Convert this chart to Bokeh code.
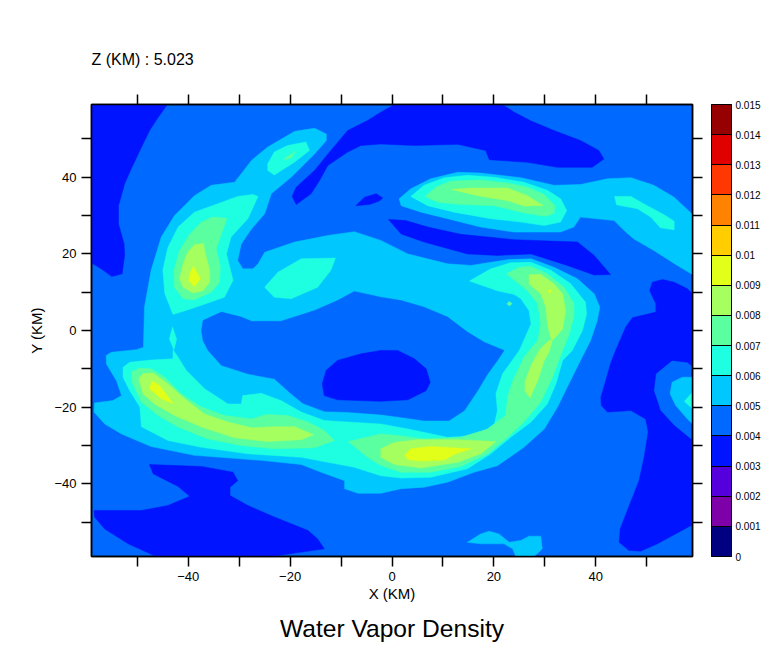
from bokeh.plotting import figure
from bokeh.embed import file_html
from bokeh.resources import INLINE
from bokeh.models import (ColorBar, LinearColorMapper, FixedTicker, LinearAxis, Title, Range1d)

# ---- contour levels and colours (one colour per 0.001 band) ----
levels = [0, 0.001, 0.002, 0.003, 0.004, 0.005, 0.006, 0.007, 0.008, 0.009,
          0.01, 0.011, 0.012, 0.013, 0.014, 0.015]
palette = ["#000080", "#7d00a8", "#5500dc", "#0014ff", "#0069ff", "#00c8ff", "#1effe1",
           "#5aff9f", "#a5ff5f", "#e1ff19", "#ffcd00", "#ff8200", "#ff3700", "#e10000", "#960000"]
BAND_3, BAND_4, BAND_5, BAND_6, BAND_7, BAND_8, BAND_9 = palette[3:10]

level_labels = ["0", "0.001", "0.002", "0.003", "0.004", "0.005", "0.006", "0.007", "0.008",
                "0.009", "0.01", "0.011", "0.012", "0.013", "0.014", "0.015"]
x_ticks = [-50, -40, -30, -20, -10, 0, 10, 20, 30, 40, 50]
labelled = {-40: "\u221240", -20: "\u221220", 0: "0", 20: "20", 40: "40"}

# ---- contour outlines (x km, y km) ----
low_topleft = [(-59, 59), (-44.1, 59), (-45.9, 55.7), (-47.6, 52.2), (-49.5, 47), (-51.2, 42.2), (-52.5, 38.3),
               (-53.7, 32.6), (-53.7, 27.8), (-52.6, 22.6), (-52.5, 19.6), (-53, 14.8), (-55, 14.1), (-57.1, 16.1), (-59, 17.6)]
low_top = [(0.5, 59), (21.7, 59), (24, 57), (27.3, 54.7), (31.8, 52.2), (37, 49.6), (40.6, 47), (41.6, 44.8),
           (39.3, 42.6), (32.5, 42.6), (26.6, 43.9), (19.1, 44.6), (18.4, 47), (12.9, 48.6), (4.4, 48.3), (-2.2, 48.7),
           (-6.1, 48.3), (-8.7, 46.6), (-12.6, 43.1), (-14.2, 39.2), (-15.9, 35.7), (-18.8, 32.9), (-19.6, 35),
           (-18.8, 37.4), (-15.2, 41.8), (-12, 47), (-8.7, 52.2), (-4.8, 54.8), (-2.2, 57)]
low_speck = [(-7.1, 32.6), (-5.4, 34.8), (-3.1, 35.7), (-1.8, 34.6), (-2.5, 33.8), (-4.4, 32.9)]
low_band = [(-0.7, 29), (2.7, 28.7), (7, 27), (13.5, 25.1), (24, 23.7), (36.4, 23.1), (39.7, 19.6), (42.9, 14.6),
            (39.7, 14.5), (34.4, 17), (27.3, 20), (20.7, 19.6), (14.8, 20), (6.3, 23.1), (1.8, 25.2)]
low_right = [(59, 9.6), (58, 10.9), (55.4, 12.6), (53.1, 13.3), (51.1, 12.6), (50.6, 10.4), (51.8, 7), (51.8, 4.8),
             (47.2, 3.3), (45.9, 0.9), (43.9, -5.2), (42.9, -8.7), (41.8, -13.9), (41, -17.4), (41.1, -19.6), (42.3, -21.3),
             (46.9, -20.9), (49.8, -23.1), (50.3, -26.5), (49.5, -33.1), (48.5, -39.2), (46.2, -47), (44.8, -51.8),
             (44.6, -55.3), (46.5, -57.4), (48.8, -57.6), (52.1, -55.7), (59, -50.7), (59, -28.7), (55.4, -24.8),
             (52.7, -20.9), (51.4, -15.7), (51.8, -11.3), (55, -7.8), (58, -8.3), (59, -9.4)]
low_bottom = [(-47.6, -35), (-37.4, -35.5), (-31.2, -37), (-30.3, -39.2), (-31.8, -40.9), (-31.8, -43.1), (-28.3, -45.7),
              (-23.1, -48.7), (-16.5, -52.2), (-14.6, -54.4), (-13.3, -57), (-23.7, -59), (-46.3, -59), (-51.8, -55.7),
              (-56.4, -51.8), (-58.4, -48.7), (-58.5, -47), (-49.2, -47), (-44, -45.7), (-39.7, -43.3), (-42, -40.7), (-46.9, -37.4)]
low_centre = [(-2.2, -5.2), (-6.1, -6.1), (-10.7, -7.8), (-12.9, -10.4), (-13.7, -13.9), (-13.3, -17), (-10.7, -18.1),
              (-2.2, -18.5), (3.1, -18.1), (6.7, -15.7), (7.5, -13.5), (6.7, -10), (4.4, -7.4), (1.1, -5.2)]

ring_outer = [(-58.5, -21.3), (-56.4, -24.4), (-53.1, -27), (-47.3, -30.3), (-38.8, -32.6), (-25.7, -33.9), (-17.8, -35),
              (-13.9, -37), (-9.3, -39.2), (-9.3, -41.3), (-6.7, -42.5), (-2.2, -42.5), (1.8, -41.3), (6.3, -40.9), (10.9, -39.6),
              (16.1, -37), (20.7, -35.3), (25.9, -30.5), (29.9, -25.7), (32.5, -20), (34.4, -14.8), (37, -7.8), (39, -2.6),
              (40.3, 2.6), (40.8, 6.1), (39.7, 9.6), (36.4, 13.5), (31.8, 16.5), (27.3, 18.7), (22.7, 18.5), (19.4, 17.8),
              (15.5, 17), (10.9, 17.4), (3.1, 20), (-2.2, 23.5), (-7.4, 25.8), (-12.6, 24.8), (-19.1, 23.1), (-25, 20.4),
              (-26.3, 17.4), (-27.3, 16.1), (-29.3, 16.1), (-30.3, 18.3), (-29.6, 22.6), (-27.6, 26.5), (-25, 30.5), (-23.7, 35.7),
              (-19.8, 40), (-15.2, 46.1), (-12.9, 49.6), (-12.9, 51.3), (-15.2, 52.8), (-19.1, 52), (-24.4, 47.9), (-27.6, 44.4),
              (-29.1, 41.8), (-30.9, 38.7), (-35.5, 37.9), (-38.8, 35.2), (-42.7, 30), (-45.3, 24.4), (-47.3, 15.7), (-48.6, 6.1),
              (-48.8, -4.4), (-50.2, -5), (-55.1, -5.7), (-56.1, -6.5), (-56.1, -8.7), (-54.1, -13.1), (-53.1, -17), (-54.8, -18.3),
              (-58.4, -18.9)]
ring_hole = [(-37.1, 2.6), (-33.5, 4.8), (-29.6, 3.5), (-27.6, 2.4), (-21.8, 2.4), (-15.2, 5.2), (-10.7, 7.8), (-7.4, 10.2),
             (-2.2, 8.7), (1.8, 7.8), (6.3, 6.1), (10.9, 3.5), (14.8, -0.4), (18.1, -3.1), (22, -5.2), (20.7, -7.8), (18.8, -11.3),
             (16.8, -15.7), (14.2, -20.9), (11.2, -23.5), (6.3, -23.5), (1.1, -22.5), (-2.2, -21.9), (-8.7, -21.3), (-13.3, -21.1),
             (-17.5, -19), (-19.8, -16.5), (-23.1, -12.6), (-28.3, -11.3), (-33.5, -9.1), (-36.1, -5.2), (-37.1, -2.6), (-37.4, 0)]
upper_band = [(1.4, 34.4), (3.7, 37), (7.6, 39.6), (12.9, 41.3), (17.4, 41.1), (25.3, 39.9), (31.8, 37.9), (37, 38.1), (42.3, 39.6),
              (46.9, 39.9), (51.4, 37.9), (55.4, 34.8), (59, 30.3), (59, 14.6), (56, 17), (51.4, 20.9), (47.5, 23.9), (45.9, 25.7),
              (43.6, 28.7), (37, 29.6), (35.7, 27), (33.1, 25.7), (24, 25.7), (17.4, 27), (10.9, 29.2), (5.7, 30.9), (1.8, 32.6)]
bottom_blob = [(14.8, -55.3), (17.4, -53.1), (19.1, -52.4), (21, -53.1), (23, -55.3), (25.3, -54.8), (26.9, -53.7), (29.2, -53.7),
               (29.5, -57), (27.9, -59), (24.3, -59), (23.7, -57), (22, -55.7), (17.4, -55.7)]
right_blob = [(59, -12.2), (57, -12.2), (55, -13.5), (54.6, -16.5), (55.7, -19.6), (58, -23.1), (59, -24.4)]

cyan_left = [(-26.3, 35), (-27.3, 35.5), (-30.3, 35), (-34.2, 33.1), (-38.8, 30.9), (-42, 27), (-44, 21.7), (-45, 15.7), (-44.6, 9.6),
             (-43, 4.2), (-39.4, 5.7), (-32.9, 8.7), (-31.2, 13.1), (-32.5, 20), (-31.6, 24.4), (-28.3, 29.2)]
cyan_top = [(-24.4, 43.5), (-23.1, 46.6), (-20.5, 48.3), (-16.9, 49.2), (-16.2, 47), (-19.1, 44), (-23.1, 40.6), (-24.4, 41.8)]
cyan_mid = [(-25, 11.3), (-22.4, 15.2), (-17.8, 18.7), (-11.1, 18.9), (-12, 15.7), (-14.6, 11.3), (-19.8, 8.3), (-23.1, 8.7)]
cyan_lens = [(-43.1, 0.9), (-42.3, -2.2), (-42.8, -5), (-43.7, -2.2)]
cyan_band = [(3.7, 35), (6.3, 37.9), (10.3, 39.9), (14.8, 40.5), (20.1, 40), (25.9, 38.7), (30.5, 36.6), (33.1, 34.4), (34.3, 31.3),
             (33.1, 28.3), (29.9, 27.4), (25.3, 28.3), (19.4, 29.2), (12.2, 30.9), (7, 32.6)]
cyan_streak = [(43.7, 35), (46.9, 35), (50.1, 32.6), (53.7, 30), (55.4, 28.5), (55.4, 26.3), (52.7, 26.8), (50.8, 29.6), (48.2, 31.8), (44.1, 32.8)]
cyan_arc = [(15.2, 12.9), (19.4, 16.1), (23.3, 17.7), (27.3, 17.8), (31.2, 15.7), (35.1, 12.2), (38, 7.4), (38.2, 4.3), (37.4, 0), (35.4, -5.2),
            (33.5, -7.8), (32.2, -13.9), (30.5, -19.2), (27.3, -23.9), (23.3, -27.9), (19.4, -32.2), (14.8, -36.1), (7.6, -38.3), (1.8, -38.5),
            (-2.2, -37.9), (-7.4, -35.7), (-12.6, -34.4), (-17.8, -33.1), (-28.3, -32.2), (-37.4, -30.5), (-44, -28.7), (-49.2, -25.1), (-49.5, -20),
            (-51.5, -15.7), (-52.8, -12.2), (-52.8, -9.6), (-51.5, -8.3), (-47.3, -7.7), (-43, -7.4), (-43, -5), (-42, -7), (-40.4, -10.4),
            (-36.8, -15.2), (-32.2, -19.2), (-29.6, -19.2), (-29.3, -17), (-25.7, -16.4), (-21.8, -18.3), (-17.8, -21.3), (-13.3, -23.5), (-8.7, -23.9),
            (-2.2, -24.4), (3.1, -25.7), (10.9, -27.9), (16.8, -27.4), (20.1, -24.4), (20.7, -20.9), (20.4, -16.5), (21.7, -11.3), (25, -5.2),
            (27.3, 1.7), (26.9, 5.2), (25.3, 8.3), (24, 9.4), (20.7, 10.4)]
cyan_edge = [(59, -16.1), (57.4, -18.5), (59, -20.4)]

green_left = [(-32.4, 29.3), (-35.2, 29.6), (-37.4, 28.3), (-39.7, 25.2), (-41.7, 20.9), (-42.8, 15.7), (-42.7, 11.3), (-41, 8.3), (-38.8, 8),
              (-35.5, 10), (-33.9, 12.6), (-33.7, 16.5), (-34.5, 21.3), (-33.5, 25.2)]
green_speck_top = [(-21.4, 44.6), (-19, 46.8), (-19.8, 45)]
green_band = [(6.5, 35), (8.6, 37.4), (11.6, 39), (17.4, 39.3), (22.7, 38.5), (26.6, 37.4), (29.9, 35.5), (32, 32.6), (31.8, 30.5), (29.9, 29.8),
              (25.3, 30.9), (20.1, 32.6), (13.5, 32.9), (9, 33.5)]
green_arc = [(22.5, 14.8), (25, 16.5), (27.3, 16.7), (30.5, 14.8), (33.8, 11.3), (35.7, 7), (35.7, 3.5), (34.8, -0.9), (33.5, -5.2), (31.5, -12.2),
             (29.2, -18.7), (25.9, -23.9), (22.7, -27.9), (18.8, -32.2), (13.5, -35.5), (7.6, -37), (1.8, -37), (-2.2, -35.2), (-4.8, -33.1), (-8.6, -29),
             (-2.2, -27), (1.1, -27.4), (6.3, -28.3), (13.5, -27.9), (18.8, -25.7), (22.3, -22.2), (22.7, -17.4), (23.7, -13.1), (25.9, -7), (28.6, -2.6),
             (29.2, 1.7), (28.6, 7), (26.6, 10.4), (23.7, 13.5)]
green_long = [(-51.2, -10.9), (-49.5, -9.8), (-47.3, -10), (-44.6, -12.2), (-41.4, -16.5), (-37.4, -20), (-32.9, -22.2), (-27.6, -23.1), (-24.7, -21.9),
              (-20.5, -22.2), (-16.5, -23.9), (-13.3, -26.1), (-11.3, -28.7), (-15.2, -30.6), (-23.1, -30.9), (-29.6, -30), (-36.1, -28.3), (-42, -25.2),
              (-45.9, -22.2), (-49.2, -18.7), (-50.9, -13.9)]
green_speck_arc = [(23, 7.6), (23.6, 7), (23, 6.4), (22.6, 7)]

lime_left = [(-38.8, 22.4), (-37, 22.8), (-36.8, 20.9), (-35.8, 15.7), (-35.8, 12.6), (-37.1, 10.4), (-39.1, 9.8), (-41, 11.3), (-41.7, 13.5), (-41, 17.4), (-40.1, 20.5)]
lime_band = [(11.7, 36.8), (15.5, 37.2), (22.7, 37.2), (26.6, 35.2), (29.7, 32.6), (25.9, 32.5), (22.7, 33.9), (16.8, 35.2)]
lime_arc_top = [(26.9, 14.6), (29.2, 14.6), (31.8, 12.2), (33.5, 9.6), (34.1, 5.2), (33.5, 0.4), (31.8, -2.2), (31.3, -2.6), (30.5, 1.7), (30.2, 6.1), (29.2, 9.6), (26.9, 12.2)]
lime_arc_low = [(31.5, -2.6), (30.8, -5.7), (29.9, -7.8), (28.6, -13.1), (27.1, -17.6), (26.1, -15.7), (26.1, -13.5), (27.3, -9.1), (29.1, -4.8), (30.8, -2.6)]
lime_bottom = [(-2.2, -30.9), (0.5, -29.2), (5, -28.5), (12.9, -28.5), (20.4, -29), (17.4, -32.2), (12.9, -34.4), (5.7, -35.9), (0.5, -35), (-2.2, -33.1)]
lime_long = [(-49.7, -12.6), (-48.9, -11.3), (-46.9, -11.1), (-44, -13.9), (-40.7, -17.8), (-36.8, -21.8), (-32.2, -23.9), (-27.6, -25.4), (-23.1, -25.1), (-19.1, -25.1),
             (-15.4, -27.2), (-17.8, -28.5), (-24.4, -29), (-30.9, -28), (-37.4, -25.2), (-42.7, -22.2), (-46.6, -19.2), (-48.9, -16.5)]

yellow_left = [(-39, 16.8), (-37.6, 13.5), (-38.8, 11.5), (-39.9, 13.1), (-39.7, 14.8)]
yellow_long = [(-47.1, -13.2), (-45.6, -14.4), (-43, -19), (-45.3, -17.8), (-47.6, -15.2)]
yellow_bottom = [(2.5, -32.6), (3.7, -30.9), (7.6, -30.3), (15.5, -30.9), (12.5, -32.2), (10.3, -33.8), (5.7, -34.1), (3.1, -33.7)]
yellow_speck = [(30.8, 10.6), (31.2, 10.6), (31.2, 10), (30.8, 10)]

# painted from the lowest band upward
paint_order = [
    (BAND_3, [low_topleft, low_top, low_speck, low_band, low_right, low_bottom]),
    (BAND_5, [ring_outer, upper_band, bottom_blob, right_blob]),
    (BAND_4, [ring_hole]),
    (BAND_3, [low_centre]),
    (BAND_6, [cyan_left, cyan_top, cyan_mid, cyan_lens, cyan_band, cyan_streak, cyan_arc, cyan_edge]),
    (BAND_7, [green_left, green_speck_top, green_band, green_arc, green_long, green_speck_arc]),
    (BAND_8, [lime_left, lime_band, lime_arc_top, lime_arc_low, lime_bottom, lime_long]),
    (BAND_9, [yellow_left, yellow_long, yellow_bottom, yellow_speck]),
]

p = figure(frame_width=601, frame_height=452, x_range=Range1d(-59, 59), y_range=Range1d(-59, 59),
           toolbar_location=None, output_backend="svg", min_border_left=91, min_border_top=104,
           min_border_bottom=100, min_border_right=4, x_axis_location=None, y_axis_location=None,
           background_fill_color=BAND_4, border_fill_color="white")
p.grid.visible = False
p.outline_line_color = "black"
p.outline_line_width = 1.5

for colour, outlines in paint_order:
    p.patches([[v[0] for v in o] for o in outlines], [[v[1] for v in o] for o in outlines],
              fill_color=colour, line_color=colour, line_width=0.5)

FONT = "Liberation Sans"


def make_axis(show_labels, title="", standoff=0):
    ax = LinearAxis(ticker=FixedTicker(ticks=x_ticks), axis_line_color="black", axis_line_width=1.5,
                    major_tick_line_color="black", major_tick_line_width=1.5,
                    major_tick_in=0, major_tick_out=10, minor_tick_line_color=None,
                    major_label_text_font=FONT, major_label_text_font_size="13px", major_label_text_color="black",
                    major_label_standoff=5)
    overrides = {t: (labelled.get(t, "") if show_labels else "") for t in x_ticks}
    ax.major_label_overrides = overrides
    if title:
        ax.axis_label = title
        ax.axis_label_text_font = FONT
        ax.axis_label_text_font_size = "15px"
        ax.axis_label_text_font_style = "normal"
        ax.axis_label_text_color = "black"
        ax.axis_label_standoff = standoff
    return ax


p.add_layout(make_axis(True, "X (KM)", 1), "below")
p.add_layout(make_axis(True, "Y (KM)", 6), "left")
p.add_layout(make_axis(False), "above")
p.add_layout(make_axis(False), "right")

mapper = LinearColorMapper(palette=palette, low=levels[0], high=levels[-1])
cb = ColorBar(color_mapper=mapper, ticker=FixedTicker(ticks=levels), width=20, height=452,
              major_label_overrides=dict(zip(levels, level_labels)),
              major_label_text_font=FONT, major_label_text_font_size="10px", major_label_text_color="black",
              major_tick_line_color="black", major_tick_line_width=1, major_tick_in=20, major_tick_out=0,
              bar_line_color="black", bar_line_width=1, border_line_color=None, padding=0, margin=20,
              location=(9, 0), label_standoff=4, background_fill_color=None)
p.add_layout(cb, "right")

p.add_layout(Title(text="Z (KM) : 5.023", align="left", text_font=FONT, text_font_size="16px",
                   text_font_style="normal", text_color="black", standoff=54), "above")
p.add_layout(Title(text="Water Vapor Density", align="center", text_font=FONT, text_font_size="24.6px",
                   text_font_style="normal", text_color="black", standoff=17), "below")

open("out.html", "w").write(file_html(p, INLINE))
